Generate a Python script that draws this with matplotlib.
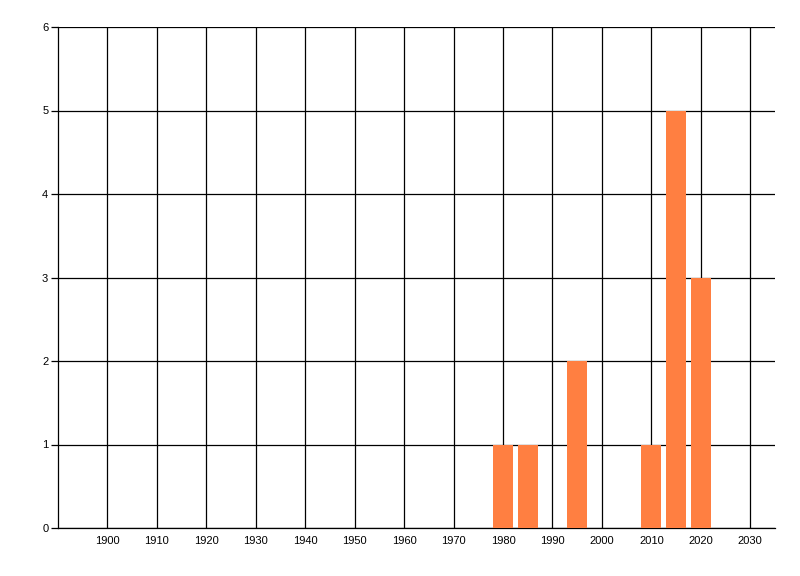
import matplotlib
matplotlib.use("Agg")
import matplotlib.pyplot as plt

# counts per year
years = [1980, 1985, 1995, 2010, 2015, 2020]
counts = [1, 1, 2, 1, 5, 3]

xticks = list(range(1900, 2031, 10))
yticks = list(range(0, 7))

plt.rcParams['font.family'] = ['Liberation Sans', 'DejaVu Sans']

fig = plt.figure(figsize=(8, 5.76), dpi=100)
ax = fig.add_axes([58/800, 1 - 528/576, (775 - 58)/800, (528 - 27)/576])

ax.set_xlim(1890, 2035)
ax.set_ylim(0, 6)
ax.set_xticks(xticks)
ax.set_yticks(yticks)
ax.set_xticklabels([str(x) for x in xticks], fontsize=8)
ax.set_yticklabels([str(y) for y in yticks], fontsize=8)

ax.grid(True, color='black', linewidth=0.9)
ax.set_axisbelow(True)
ax.bar(years, counts, width=4, color='#FF7F41', zorder=3)

for s in ['top', 'right']:
    ax.spines[s].set_visible(False)
ax.spines['left'].set_linewidth(0.9)
ax.spines['bottom'].set_linewidth(0.9)
ax.tick_params(axis='x', length=0, pad=6)
ax.tick_params(axis='y', length=5, width=0.9, pad=2)

fig.savefig("out.png", dpi=100)
